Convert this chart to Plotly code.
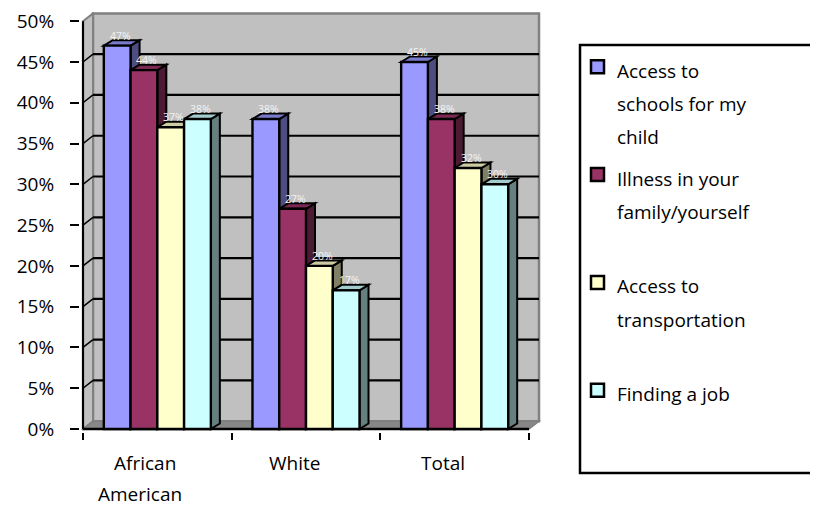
import plotly.graph_objects as go

# ---------------- data ----------------
categories = ["African American", "White", "Total"]
category_lines = [["African", "American"], ["White"], ["Total"]]
series_names = [
    "Access to schools for my child",
    "Illness in your family/yourself",
    "Access to transportation",
    "Finding a job",
]
legend_lines = [
    ["Access to", "schools for my", "child"],
    ["Illness in your", "family/yourself"],
    ["Access to", "transportation"],
    ["Finding a job"],
]
schools = [47, 38, 45]
illness = [44, 27, 38]
transport = [37, 20, 32]
job = [38, 17, 30]
series_values = [schools, illness, transport, job]
y_ticks = [0, 5, 10, 15, 20, 25, 30, 35, 40, 45, 50]

# ---------------- style ----------------
front_colors = ["#9999FF", "#993366", "#FFFFCC", "#CCFFFF"]
top_colors = ["#7A7ACC", "#7A2952", "#CCCCA3", "#A3CCCC"]
side_colors = ["#4D4D80", "#4D1A33", "#808066", "#668080"]
FONT = "Open Sans, Noto Sans, DejaVu Sans, sans-serif"

# the page body has an 8px default margin: figure pixels = page pixels - OFF
OFF = 8
W, H = 818 - OFF, 506 - OFF
PX_L, PX_R = 83.0 - OFF, 529.0 - OFF      # x=-0.5 and x=2.5
PY_0, PY_50 = 429.0 - OFF, 21.2 - OFF     # y=0 and y=50
SX = (PX_R - PX_L) / 3.0
SY = (PY_0 - PY_50) / 50.0
ML, MR, MT, MB = 72, 266, 4, 74
plot_w = W - ML - MR
plot_h = H - MT - MB
x_range = [-0.5 - (PX_L - ML) / SX, 2.5 + ((W - MR) - PX_R) / SX]
y_range = [-((H - MB) - PY_0) / SY, 50 + (PY_50 - MT) / SY]

DXW, DYW = 10 / SX, 7.8 / SY   # wall depth
DXB, DYB = 9 / SX, 5.5 / SY    # bar depth
BW = 0.18
offsets = [-0.36, -0.18, 0.0, 0.18]


def px_x(px):
    return (px - OFF - ML) / plot_w


def px_y(py):
    return (H - MB - (py - OFF)) / plot_h


def poly(pts):
    return "M " + " L ".join(f"{x:.5f},{y:.5f}" for x, y in pts) + " Z"


shapes = []
# back wall
shapes.append(dict(type="rect", xref="x", yref="y", layer="below",
                   x0=-0.5 + DXW, x1=2.5 + DXW, y0=DYW, y1=50 + DYW,
                   fillcolor="#C0C0C0", line=dict(color="#808080", width=2.5)))
# left wall
shapes.append(dict(type="path", xref="x", yref="y", layer="below",
                   path=poly([(-0.5, 0), (-0.5 + DXW, DYW), (-0.5 + DXW, 50 + DYW), (-0.5, 50)]),
                   fillcolor="#C0C0C0", line=dict(color="#808080", width=2)))
# floor
shapes.append(dict(type="path", xref="x", yref="y", layer="below",
                   path=poly([(-0.5, 0), (2.5, 0), (2.5 + DXW, DYW), (-0.5 + DXW, DYW)]),
                   fillcolor="#878787", line=dict(color="#808080", width=1.5)))
# gridlines on back wall and left wall
for v in y_ticks[1:-1]:
    shapes.append(dict(type="line", xref="x", yref="y", layer="below",
                       x0=-0.5 + DXW, x1=2.5 + DXW, y0=v + DYW, y1=v + DYW,
                       line=dict(color="black", width=2.2)))
    shapes.append(dict(type="line", xref="x", yref="y", layer="below",
                       x0=-0.5, x1=-0.5 + DXW, y0=v, y1=v + DYW,
                       line=dict(color="black", width=1.5)))
# axis lines
shapes.append(dict(type="line", xref="x", yref="y", layer="below",
                   x0=-0.5, x1=-0.5, y0=0, y1=50, line=dict(color="black", width=2.2)))
shapes.append(dict(type="line", xref="x", yref="y", layer="below",
                   x0=-0.5, x1=2.5, y0=0, y1=0, line=dict(color="black", width=2.5)))

# 3D sides / tops of bars (left to right inside each group)
for ci in range(len(categories)):
    for si in range(len(series_values)):
        v = series_values[si][ci]
        L = ci + offsets[si]
        R = L + BW
        shapes.append(dict(type="path", xref="x", yref="y", layer="below",
                           path=poly([(R, 0), (R + DXB, DYB), (R + DXB, v + DYB), (R, v)]),
                           fillcolor=side_colors[si], line=dict(color="black", width=2)))
        shapes.append(dict(type="path", xref="x", yref="y", layer="below",
                           path=poly([(L, v), (L + DXB, v + DYB), (R + DXB, v + DYB), (R, v)]),
                           fillcolor=top_colors[si], line=dict(color="black", width=2)))

fig = go.Figure()
for si, name in enumerate(series_names):
    fig.add_trace(go.Bar(
        x=list(range(len(categories))), y=series_values[si], name=name,
        width=BW, offset=offsets[si],
        marker=dict(color=front_colors[si], line=dict(color="black", width=2.4)),
        showlegend=False, hoverinfo="skip",
    ))

annotations = []
# value labels
for si in range(len(series_values)):
    for ci in range(len(categories)):
        v = series_values[si][ci]
        annotations.append(dict(
            x=ci + offsets[si] + BW / 2, y=v, xref="x", yref="y",
            text=f"{v}%", showarrow=False, xshift=3, yshift=10,
            font=dict(family=FONT, size=10.5, color="#F4F4F4")))
# category labels
for ci, lines in enumerate(category_lines):
    for li, line in enumerate(lines):
        annotations.append(dict(
            x=ci, y=0, xref="x", yref="y", text=line, showarrow=False,
            xshift=-12 - 5 * li, yshift=-34 - 31 * li, yanchor="middle", borderpad=0,
            font=dict(family=FONT, size=19, color="black")))

# legend box
shapes.append(dict(type="rect", xref="paper", yref="paper", layer="above",
                   x0=px_x(580), x1=px_x(840), y0=px_y(473), y1=px_y(45),
                   fillcolor="rgba(0,0,0,0)", line=dict(color="black", width=2.5)))
for si, lines in enumerate(legend_lines):
    base = 77.3 + 107.8 * si
    mc = base - 10.5
    shapes.append(dict(type="rect", xref="paper", yref="paper", layer="above",
                       x0=px_x(591), x1=px_x(604), y0=px_y(mc + 6.5), y1=px_y(mc - 6.5),
                       fillcolor=front_colors[si], line=dict(color="black", width=2.5)))
    for li, line in enumerate(lines):
        annotations.append(dict(
            x=px_x(615), y=px_y(base + 33.3 * li - 6.5), xref="paper", yref="paper",
            text=line, showarrow=False, xanchor="left", yanchor="middle",
            font=dict(family=FONT, size=19, color="black")))

fig.update_layout(
    width=W, height=H, margin=dict(l=ML, r=MR, t=MT, b=MB, pad=0, autoexpand=False),
    paper_bgcolor="white", plot_bgcolor="white",
    barmode="overlay", showlegend=False,
    shapes=shapes, annotations=annotations,
    font=dict(family=FONT, size=19, color="black"),
    xaxis=dict(range=x_range, showgrid=False, zeroline=False, showline=False, automargin=False,
               tickmode="array", tickvals=[-0.5, 0.5, 1.5, 2.5], ticktext=["", "", "", ""],
               ticks="outside", ticklen=7, tickwidth=2, tickcolor="black", fixedrange=True),
    yaxis=dict(range=y_range, showgrid=False, zeroline=False, showline=False, automargin=False,
               tickmode="array", tickvals=y_ticks, ticktext=[f"{t}%" for t in y_ticks],
               ticks="outside", ticklen=9, tickwidth=2, tickcolor="black",
               ticklabelstandoff=12, ticklabeloverflow="allow",
               tickfont=dict(family=FONT, size=19, color="black"),
               fixedrange=True),
)

fig.write_html("out.html")
